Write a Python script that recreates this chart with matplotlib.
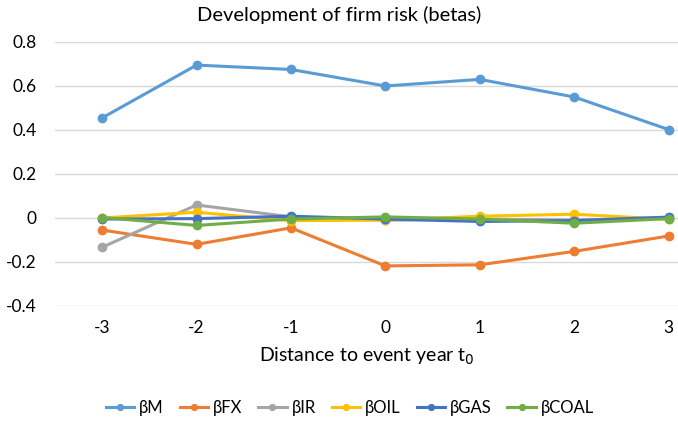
import numpy as np
import matplotlib.pyplot as plt

plt.rcParams['font.family'] = ['Lato', 'DejaVu Sans']
plt.rcParams['axes.unicode_minus'] = False

years = [-3, -2, -1, 0, 1, 2, 3]
b_m = [0.455, 0.695, 0.675, 0.600, 0.630, 0.550, 0.402]
b_fx = [-0.055, -0.120, -0.045, -0.218, -0.213, -0.152, -0.082]
b_ir = [-0.133, 0.059, 0.005, -0.010, -0.005, -0.010, 0.000]
b_oil = [0.000, 0.026, -0.012, -0.010, 0.008, 0.017, -0.006]
b_gas = [-0.005, -0.003, 0.008, -0.005, -0.016, -0.012, 0.004]
b_coal = [0.002, -0.034, -0.005, 0.005, -0.005, -0.024, -0.003]

series = [
    ('βM', b_m, '#5B9BD5'),
    ('βFX', b_fx, '#ED7D31'),
    ('βIR', b_ir, '#A5A5A5'),
    ('βOIL', b_oil, '#FFC000'),
    ('βGAS', b_gas, '#4472C4'),
    ('βCOAL', b_coal, '#70AD47'),
]

fig = plt.figure(figsize=(6.78, 4.22), dpi=100)
ax = fig.add_axes([55 / 678, 0.275, 623 / 678, 0.6255])

for name, vals, col in series:
    ax.plot(years, vals, color=col, lw=2.2, marker='o', ms=6, label=name)

ax.set_xlim(-3.5, 3.1)
ax.set_ylim(-0.4, 0.8)
ax.set_yticks(np.arange(-0.4, 0.81, 0.2))
ax.set_yticklabels(['-0.4', '-0.2', '0', '0.2', '0.4', '0.6', '0.8'])
ax.set_xticks(years)
ax.grid(axis='y', color='#D9D9D9', lw=1)
ax.set_axisbelow(True)
for s in ax.spines.values():
    s.set_visible(False)
ax.tick_params(length=0, labelsize=12.5, colors='#000000')
ax.tick_params(axis='x', pad=10)
ax.tick_params(axis='y', pad=13)
fig.suptitle('Development of firm risk (betas)', fontsize=14.5, x=0.5, y=0.985, va='top')
ax.set_xlabel('Distance to event year t$_0$', fontsize=14, labelpad=7)

fig.legend(loc='lower center', bbox_to_anchor=(350 / 678, -0.022), ncol=6, frameon=False,
           fontsize=12, handlelength=1.7, columnspacing=0.95, handletextpad=0.3,
           markerscale=0.7)

fig.savefig('out.png', dpi=100)
